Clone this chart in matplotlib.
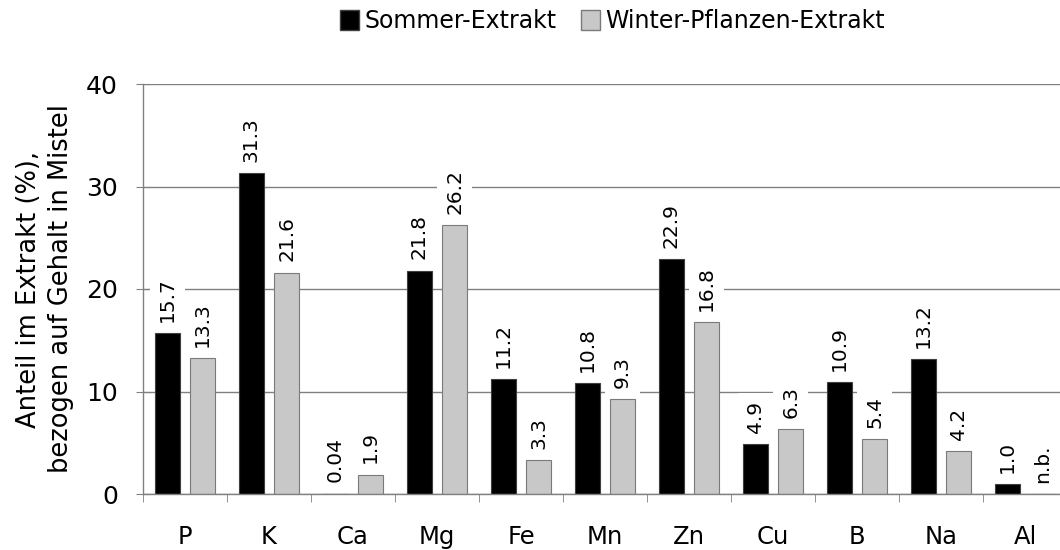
import matplotlib
matplotlib.use("Agg")
import matplotlib.pyplot as plt
import numpy as np
from matplotlib.patches import Patch


elements = ["P", "K", "Ca", "Mg", "Fe", "Mn", "Zn", "Cu", "B", "Na", "Al"]
sommer = [15.7, 31.3, 0.04, 21.8, 11.2, 10.8, 22.9, 4.9, 10.9, 13.2, 1.0]
winter = [13.3, 21.6, 1.9, 26.2, 3.3, 9.3, 16.8, 6.3, 5.4, 4.2, None]  # None = n.b.
series_names = ["Sommer-Extrakt", "Winter-Pflanzen-Extrakt"]
y_ticks = [0, 10, 20, 30, 40]


def fmt(v):
    if v is None:
        return "n.b."
    return f"{v:.2f}" if v < 0.1 else f"{v:.1f}"


fig = plt.figure(figsize=(10.6, 5.5), dpi=100)
ax = fig.add_axes([143 / 1060, 56 / 550, 924 / 1060, 410 / 550])

x = np.arange(len(elements))
w = 0.30
off = 0.21
grid_c = "#808080"

ax.bar(x - off, sommer, w, color="black", edgecolor="#404040", linewidth=0.8, zorder=2)
winter_vals = [0 if v is None else v for v in winter]
ax.bar(x + off, winter_vals, w, color="#c8c8c8", edgecolor="#7a7a7a", linewidth=0.8, zorder=2)

# value labels above each bar, white box hides the grid behind
for xs, vals in ((x - off, sommer), (x + off, winter)):
    for xi, v in zip(xs, vals):
        h = 0 if v is None else v
        ax.annotate(fmt(v), (xi, h), xytext=(0, 8), textcoords="offset points",
                    rotation=90, ha="center", va="bottom", fontsize=14.5,
                    bbox=dict(boxstyle="square,pad=0.4", fc="white", ec="none"),
                    zorder=4)

ax.set_xlim(-0.5, len(elements) - 0.5)
ax.set_ylim(0, 40)
ax.set_yticks(y_ticks)
ax.yaxis.grid(True, color=grid_c, linewidth=1.0, zorder=0)
ax.set_axisbelow(True)

ax.set_xticks(x)
ax.set_xticklabels(elements)
ax.set_xticks(np.arange(len(elements) + 1) - 0.5, minor=True)
ax.tick_params(axis="x", which="major", length=0, pad=22, labelsize=17.5)
ax.tick_params(axis="x", which="minor", length=6, color=grid_c, direction="out")
ax.tick_params(axis="y", length=10, direction="inout", color=grid_c, labelsize=18, pad=13)

for s in ("top", "right"):
    ax.spines[s].set_visible(False)
for s in ("left", "bottom"):
    ax.spines[s].set_color(grid_c)
    ax.spines[s].set_linewidth(1.0)

ax.set_ylabel("Anteil im Extrakt (%),\nbezogen auf Gehalt in Mistel", fontsize=18.5,
              linespacing=1.3, labelpad=9)

handles = [Patch(facecolor="black", edgecolor="#404040"),
           Patch(facecolor="#c8c8c8", edgecolor="#7a7a7a")]
fig.legend(handles, series_names, loc="center", bbox_to_anchor=(0.578, 0.962), ncol=2,
           frameon=False, fontsize=17, handlelength=0.8, handleheight=0.9,
           handletextpad=0.25, columnspacing=1.0)

fig.savefig("out.png", dpi=100)
